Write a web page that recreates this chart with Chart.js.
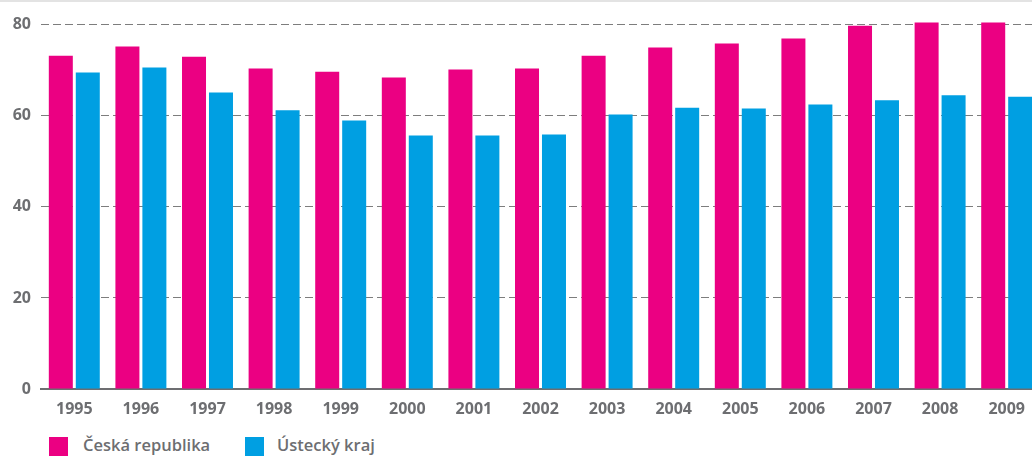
<!DOCTYPE html>
<html>
<head>
<meta charset="utf-8">
<script src="https://cdn.jsdelivr.net/npm/chart.js@4"></script>
<style>
    body { margin: 0; overflow: hidden; background: #fff; font-family: "Open Sans", sans-serif; }
    #wrap { position: absolute; left: 0; top: 0; width: 1042px; border-top: 2px solid #e3e3e3; }
    #graphique { display: block; }
    .legende { position: absolute; top: 437px; left: 0; width: 1032px; height: 20px; }
    .item { position: absolute; top: 0; font-size: 16.5px; font-weight: 600; color: #6d6e71; line-height: 20px; white-space: nowrap; }
    .carre { position: absolute; top: 0; width: 19px; height: 19px; }
</style>
</head>
<body>
<div id="wrap"><canvas id="graphique" width="1042" height="423"></canvas></div>
<div class="legende">
    <div class="carre" style="left:49px;background:#eb0082"></div>
    <div class="item" style="left:83px;top:-2px">Česká republika</div>
    <div class="carre" style="left:245px;background:#009fe2"></div>
    <div class="item" style="left:277px;top:-2px">Ústecký kraj</div>
</div>
<script>
const annees = ["1995", "1996", "1997", "1998", "1999", "2000", "2001", "2002", "2003", "2004", "2005", "2006", "2007", "2008", "2009"];
const ceskaRepublika = [73.2, 75.2, 73.0, 70.4, 69.7, 68.4, 70.2, 70.4, 73.2, 75.0, 75.9, 77.0, 79.8, 80.5, 80.5];
const ustecky = [69.5, 70.6, 65.1, 61.2, 59.0, 55.7, 55.7, 55.9, 60.3, 61.8, 61.6, 62.5, 63.4, 64.5, 64.2];

const gris = "#6d6e71";
const police = { family: "'Open Sans', sans-serif", size: 16, weight: "bold" };

const data = {
    labels: annees,
    datasets: [{
        label: "Česká republika",
        backgroundColor: "#eb0082",
        data: ceskaRepublika,
        categoryPercentage: 0.81,
        barPercentage: 0.89
    }, {
        label: "Ústecký kraj",
        backgroundColor: "#009fe2",
        data: ustecky,
        categoryPercentage: 0.81,
        barPercentage: 0.89
    }]
};

const config = {
    type: 'bar',
    data: data,
    options: {
        responsive: false,
        animation: false,
        layout: { padding: { top: 0, right: 2, left: 0, bottom: 0 } },
        scales: {
            x: {
                afterFit: function (scale) { scale.height = 36; },
                grid: { display: false, drawTicks: false },
                border: { color: gris, width: 2 },
                ticks: { color: gris, font: police, padding: 11 }
            },
            y: {
                min: 0,
                max: 85,
                afterFit: function (scale) {
                    scale.width = 41;
                    scale.paddingTop = 0;
                    scale.paddingBottom = 0;
                },
                border: { display: false, dash: [8, 4] },
                grid: { color: "#7d7d7d", lineWidth: 1, drawTicks: false },
                ticks: { stepSize: 20, includeBounds: false, color: gris, font: police, padding: 10 }
            }
        },
        plugins: {
            legend: { display: false },
            tooltip: { enabled: false }
        }
    }
};

const chart = new Chart(document.querySelector("#graphique"), config);
</script>
</body>
</html>
